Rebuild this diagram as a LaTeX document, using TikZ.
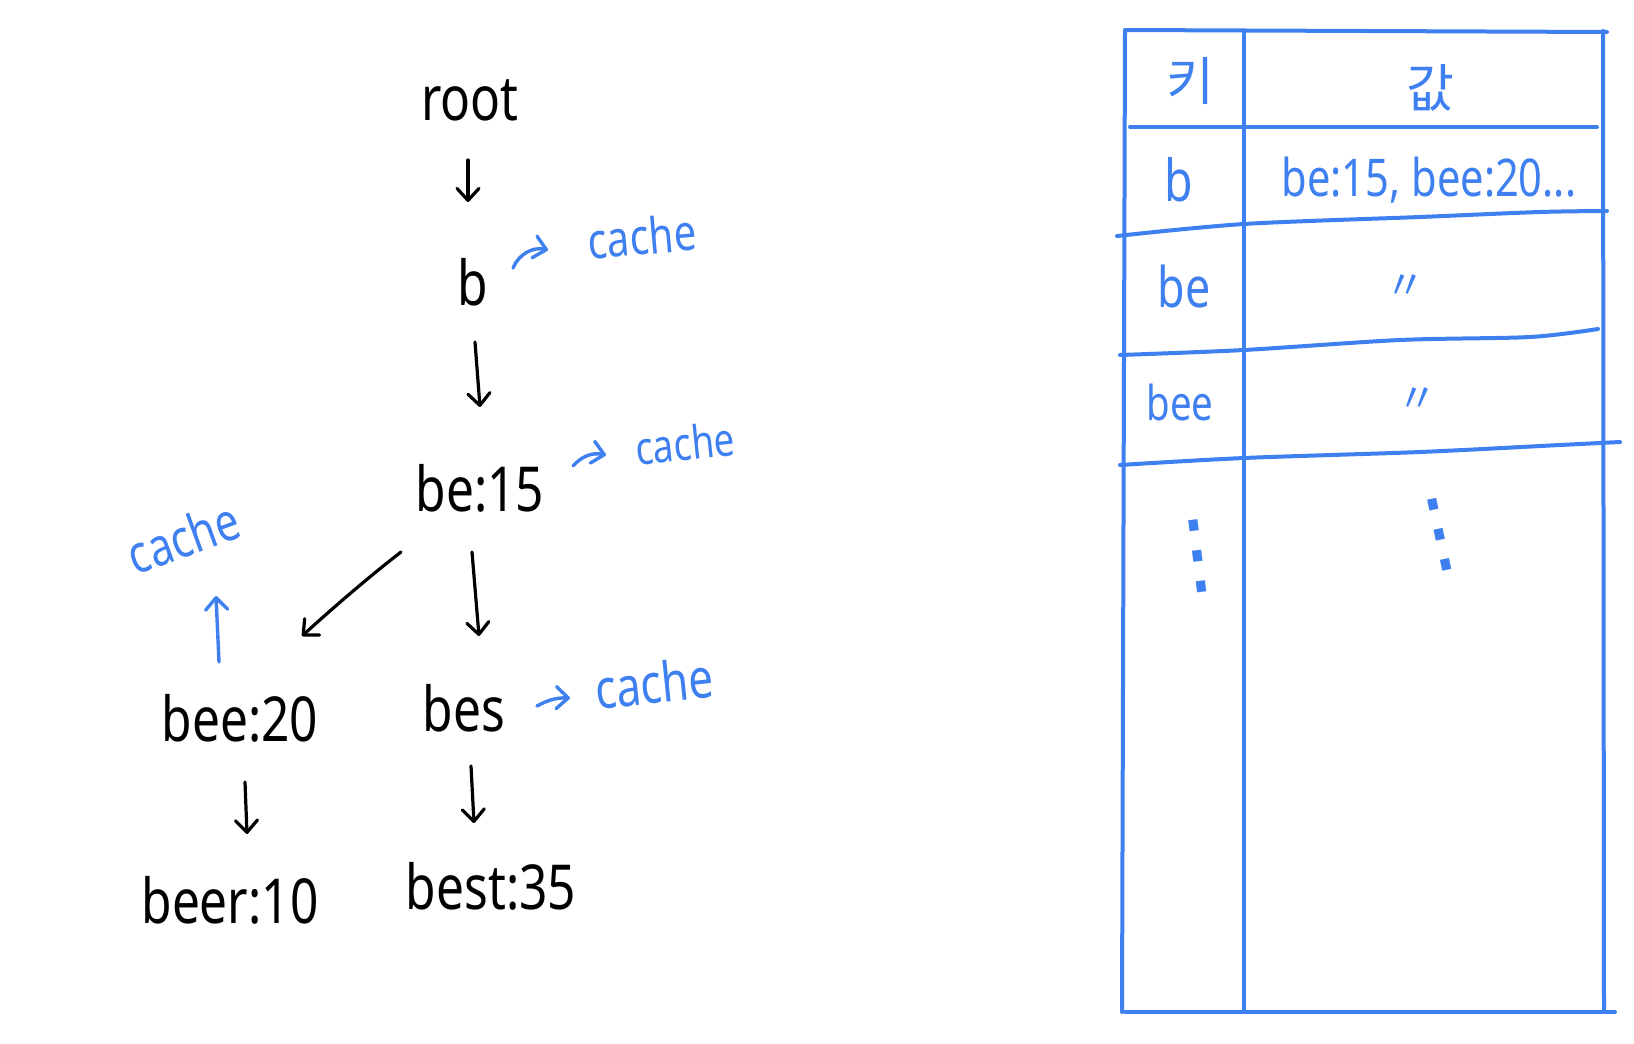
\documentclass[tikz,border=0pt]{standalone}
\usepackage{fontspec}
\setmainfont{Noto Sans}
\newfontfamily\hand{Noto Sans}[FakeStretch=0.8]
\newfontfamily\kor{Noto Sans CJK KR}
\newfontfamily\dejavu{DejaVu Sans}
\usetikzlibrary{arrows.meta,calc}
\definecolor{pen}{RGB}{62,128,240}
\begin{document}
\begin{tikzpicture}[x=1pt,y=-1pt,
  word/.style={font=\hand\fontsize{62}{62}\selectfont, inner sep=0pt, text=black},
  note/.style={font=\hand\fontsize{50}{50}\selectfont, inner sep=0pt, text=pen},
  arr/.style={line width=3.2pt, line cap=round, line join=round, -{Straight Barb[length=12pt,width=22pt,round]}},
  barr/.style={arr, draw=pen, line width=3.4pt},
  grid/.style={draw=pen, line width=4pt, line cap=round},
  cell/.style={font=\hand\fontsize{56}{56}\selectfont, inner sep=0pt, text=pen}]
\useasboundingbox (0,0) rectangle (1634,1044);
\fill[white] (0,0) rectangle (1634,1044);
% tree
\node[word] (root) at (470,100) {root};
\node[word] (b) at (473,282) {b};
\node[word] (be) at (480,488) {be:15};
\node[word] (bee) at (240,718) {bee:20};
\node[word] (bes) at (464,708) {bes};
\node[word] (beer) at (230,900) {beer:10};
\node[word] (best) at (491,886) {best:35};
% cache notes
\node[note, rotate=5] (cb) at (642,236) {cache};
\node[note, font=\hand\fontsize{46}{46}\selectfont, rotate=6] (cbe) at (685,443) {cache};
\node[note, font=\hand\fontsize{55}{55}\selectfont, rotate=6] (cbes) at (654,683) {cache};
\node[note, font=\hand\fontsize{53}{53}\selectfont, rotate=20] (cl) at (183,537) {cache};
% tree arrows
\draw[arr] ($(root)+(-2,60)$) -- ($(b)+(-5,-80)$);
\draw[arr] ($(b)+(2,60)$) -- ($(be)+(0,-81)$);
\draw[arr] ($(be)+(-8,64)$) -- ($(bes)+(15,-72)$);
\draw[arr] ($(be)+(-79,64)$) .. controls ($(be)+(-110,88)$) and ($(bee)+(95,-112)$) .. ($(bee)+(62,-82)$);
\draw[arr] ($(bee)+(5,64)$) -- ($(beer)+(17,-66)$);
\draw[arr] ($(bes)+(7,58)$) -- ($(best)+(-17,-63)$);
% blue arrows
\draw[barr] ($(bee)+(-21,-56)$) -- ($(cl)+(33,59)$);
\draw[barr] ($(b)+(40,-14)$) to[bend left=40] ($(cb)+(-94,14)$);
\draw[barr] ($(be)+(93,-22)$) to[bend left=30] ($(cbe)+(-79,12)$);
\draw[barr] ($(bes)+(73,-2)$) to[bend left=15] ($(cbes)+(-84,15)$);
% table
\draw[grid] (1125,31) -- (1122,1012);
\draw[grid] (1244,31) -- (1244,1012);
\draw[grid] (1603,31) -- (1604,1012);
\draw[grid] (1125,30) -- (1607,32);
\draw[grid] (1130,127) -- (1597,127);
\draw[grid] plot[smooth] coordinates {(1117,236) (1244,224) (1420,217) (1540,212) (1607,211)};
\draw[grid] plot[smooth] coordinates {(1120,355) (1244,350) (1400,340) (1530,337) (1598,329)};
\draw[grid] plot[smooth] coordinates {(1120,465) (1244,458) (1420,452) (1560,445) (1620,442)};
\draw[grid] (1125,1012) -- (1615,1012);
% table text
\node[cell, font=\kor\fontsize{52}{52}\selectfont] (kh) at (1190,81) {키};
\node[cell, font=\kor\fontsize{52}{52}\selectfont] (vh) at (1430,88) {값};
\node[cell, font=\hand\fontsize{58}{58}\selectfont] (k1) at (1179,180) {b};
\node[cell, font=\hand\fontsize{52}{52}\selectfont] (v1) at (1429,180) {be:15, bee:20...};
\node[cell] (k2) at (1184,286) {be};
\node[cell, font=\kor\fontsize{40}{40}\selectfont] (v2) at (1405,287) {〃};
\node[cell, font=\hand\fontsize{48}{48}\selectfont] (k3) at (1180,402) {bee};
\node[cell, font=\kor\fontsize{40}{40}\selectfont] (v3) at (1417,400) {〃};
\node[cell, font=\dejavu\fontsize{90}{90}\selectfont, rotate=7] (k4) at (1198,556) {⋮};
\node[cell, font=\dejavu\fontsize{90}{90}\selectfont, rotate=12] (v4) at (1440,535) {⋮};
\end{tikzpicture}
\end{document}
